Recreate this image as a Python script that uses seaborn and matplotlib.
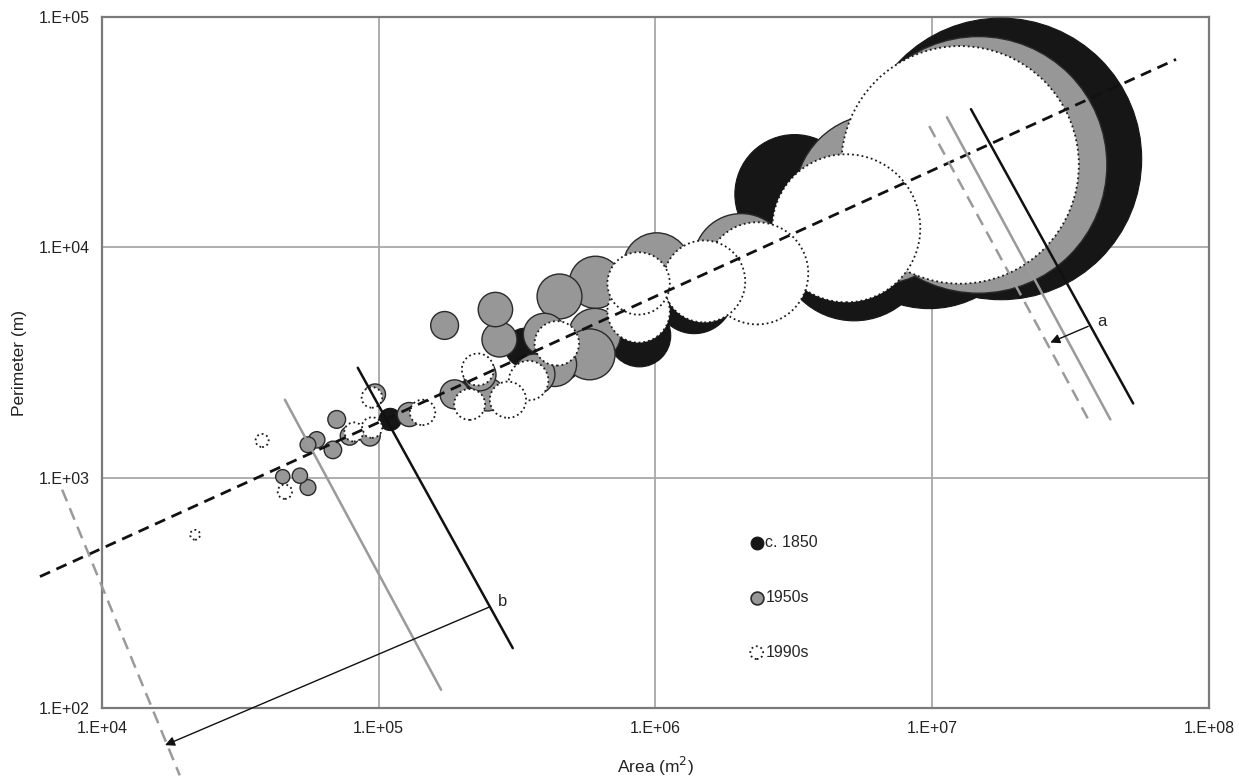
import numpy as np
import pandas as pd
import matplotlib.pyplot as plt
import seaborn as sns
from matplotlib.ticker import FixedLocator, FuncFormatter, NullLocator

# --- data (area m2, perimeter m) ---
area_1850 = [1.77e7, 9.75e6, 5.22e6, 3.18e6, 1.38e6, 8.75e5, 4.5e5, 3.37e5, 2.17e5, 1.1e5]
perim_1850 = [2.42e4, 1.54e4, 1.03e4, 1.70e4, 6.25e3, 4.14e3, 3.26e3, 3.67e3, 2.3e3, 1.79e3]

area_1950 = [1.47e7, 6.44e6, 2.04e6, 1.01e6, 6.07e5, 4.5e5, 2.64e5, 2.73e5, 1.73e5, 3.97e5,
             6.03e5, 5.78e5, 4.32e5, 3.66e5, 2.32e5, 1.88e5, 2.47e5, 1.29e5, 9.7e4, 9.3e4,
             7.85e4, 7.05e4, 5.55e4, 5.97e4, 6.83e4, 4.5e4, 5.19e4, 5.55e4]
perim_1950 = [2.28e4, 1.62e4, 8.69e3, 8.26e3, 7.05e3, 6.12e3, 5.37e3, 3.98e3, 4.58e3, 4.19e3,
              4.19e3, 3.43e3, 3.1e3, 2.81e3, 2.8e3, 2.3e3, 2.3e3, 1.88e3, 2.3e3, 1.52e3,
              1.52e3, 1.79e3, 1.39e3, 1.46e3, 1.32e3, 1.01e3, 1.02e3, 906]

area_1990 = [1.26e7, 4.89e6, 2.33e6, 1.5e6, 8.69e5, 8.69e5, 4.4e5, 3.48e5, 2.28e5, 2.93e5,
             2.13e5, 1.44e5, 9.45e4, 9.45e4, 8.13e4, 3.79e4, 4.58e4, 2.17e4]
perim_1990 = [2.28e4, 1.21e4, 7.71e3, 7.11e3, 5.27e3, 6.97e3, 3.83e3, 2.64e3, 2.95e3, 2.18e3,
              2.08e3, 1.92e3, 2.23e3, 1.65e3, 1.58e3, 1.45e3, 869, 565]

series_labels = ['c. 1850', '1950s', '1990s']

# fitted power law  P = c * A^b  (dashed line)
fit_b = 0.547
fit_c = 3.2
fit_x = [5.97e3, 7.6e7]

# guide lines (endpoints in data units)
line_a_black = ([1.38e7, 5.32e7], [3.98e4, 2.10e3])
line_a_gray = ([1.13e7, 4.40e7], [3.67e4, 1.79e3])
line_a_dash = ([9.75e6, 3.75e7], [3.36e4, 1.70e3])
arrow_a = ((3.66e7, 4.54e3), (2.67e7, 3.86e3))
label_a = (4.11e7, 4.76e3)

line_b_black = ([8.4e4, 3.05e5], [3.0e3, 182])
line_b_gray = ([4.58e4, 1.68e5], [2.18e3, 120])
line_b_dash = ([7.18e3, 1.91e4], [887, 51])
arrow_b = ((2.52e5, 275), (1.69e4, 69))
label_b = (2.81e5, 289)

sns.set_style('white')
plt.rcParams['font.family'] = ['Liberation Sans', 'DejaVu Sans']

fig = plt.figure(figsize=(12.39, 7.76), dpi=100)
ax = fig.add_axes([0.0823, 0.0876, 0.8935, 0.8905])
ax.set_xscale('log')
ax.set_yscale('log')

# bubble size proportional to area
A_MAX = 2e7
S_MAX = 0.0023225 * A_MAX

def bubbles(area, perim, face, edge, lw, ls='-'):
    df = pd.DataFrame({'area': area, 'perimeter': perim})
    df = df.sort_values('area', ascending=False, kind='stable')
    sns.scatterplot(data=df, x='area', y='perimeter', size='area',
                    sizes=(0, S_MAX), size_norm=(0, A_MAX), legend=False,
                    color=face, edgecolor=edge, linewidth=lw, linestyle=ls,
                    alpha=1, ax=ax, zorder=3)

bubbles(area_1850, perim_1850, '#161616', '#161616', 0.8)
bubbles(area_1950, perim_1950, '#979797', '#2a2a2a', 1.0)
bubbles(area_1990, perim_1990, 'white', '#1a1a1a', 1.3, ':')

# fitted line
fx = np.array(fit_x)
ax.plot(fx, fit_c * fx ** fit_b, color='#111111', lw=2, ls=(0, (4, 2.5)),
        zorder=5, clip_on=False)

for (xs, ys), col, ls in [(line_a_black, '#111111', '-'), (line_a_gray, '#9a9a9a', '-'),
                          (line_a_dash, '#9a9a9a', (0, (5, 3))),
                          (line_b_black, '#111111', '-'), (line_b_gray, '#9a9a9a', '-'),
                          (line_b_dash, '#9a9a9a', (0, (5, 3)))]:
    ax.plot(xs, ys, color=col, lw=1.8, ls=ls, zorder=6, clip_on=False)

for (start, end) in [arrow_a, arrow_b]:
    ax.annotate('', xy=end, xytext=start, zorder=7, annotation_clip=False,
                arrowprops=dict(arrowstyle='-|>', color='#111111', lw=1,
                                mutation_scale=14, shrinkA=0, shrinkB=0))
ax.text(*label_a, 'a', fontsize=12, ha='center', va='center', zorder=7)
ax.text(*label_b, 'b', fontsize=12, ha='center', va='center', zorder=7)

ax.set_xlim(1e4, 1e8)
ax.set_ylim(1e2, 1e5)
ax.xaxis.set_major_locator(FixedLocator([1e4, 1e5, 1e6, 1e7, 1e8]))
ax.yaxis.set_major_locator(FixedLocator([1e2, 1e3, 1e4, 1e5]))
ax.xaxis.set_minor_locator(NullLocator())
ax.yaxis.set_minor_locator(NullLocator())
fmt = FuncFormatter(lambda v, _: '1.E+%02d' % round(np.log10(v)))
ax.xaxis.set_major_formatter(fmt)
ax.yaxis.set_major_formatter(fmt)
ax.tick_params(axis='both', direction='out', length=5, width=1, color='#808080',
               labelsize=11.5, labelcolor='#222222', pad=4)
ax.grid(True, which='major', color='#a8a8a8', lw=1.3, zorder=0)
ax.set_axisbelow(True)
for sp in ax.spines.values():
    sp.set_visible(True)
    sp.set_color('#7a7a7a')
    sp.set_linewidth(1.6)

ax.set_xlabel('Area (m$^2$)', fontsize=12.5, color='#222222', labelpad=14)
ax.set_ylabel('Perimeter (m)', fontsize=12.5, color='#222222', labelpad=8)

# legend with small proxies
h1 = ax.scatter([], [], s=85, color='#161616', edgecolors='#161616', lw=0.8)
h2 = ax.scatter([], [], s=85, color='#979797', edgecolors='#2a2a2a', lw=1.2)
h3 = ax.scatter([], [], s=85, color='white', edgecolors='#1a1a1a', lw=1.3, linestyle=':')
ax.legend([h1, h2, h3], series_labels, loc='upper left', bbox_to_anchor=(0.577, 0.262),
          frameon=False, fontsize=11.5, labelspacing=2.5, handletextpad=0.05,
          handlelength=1.0, borderpad=0)

fig.savefig('out.png', dpi=100)
